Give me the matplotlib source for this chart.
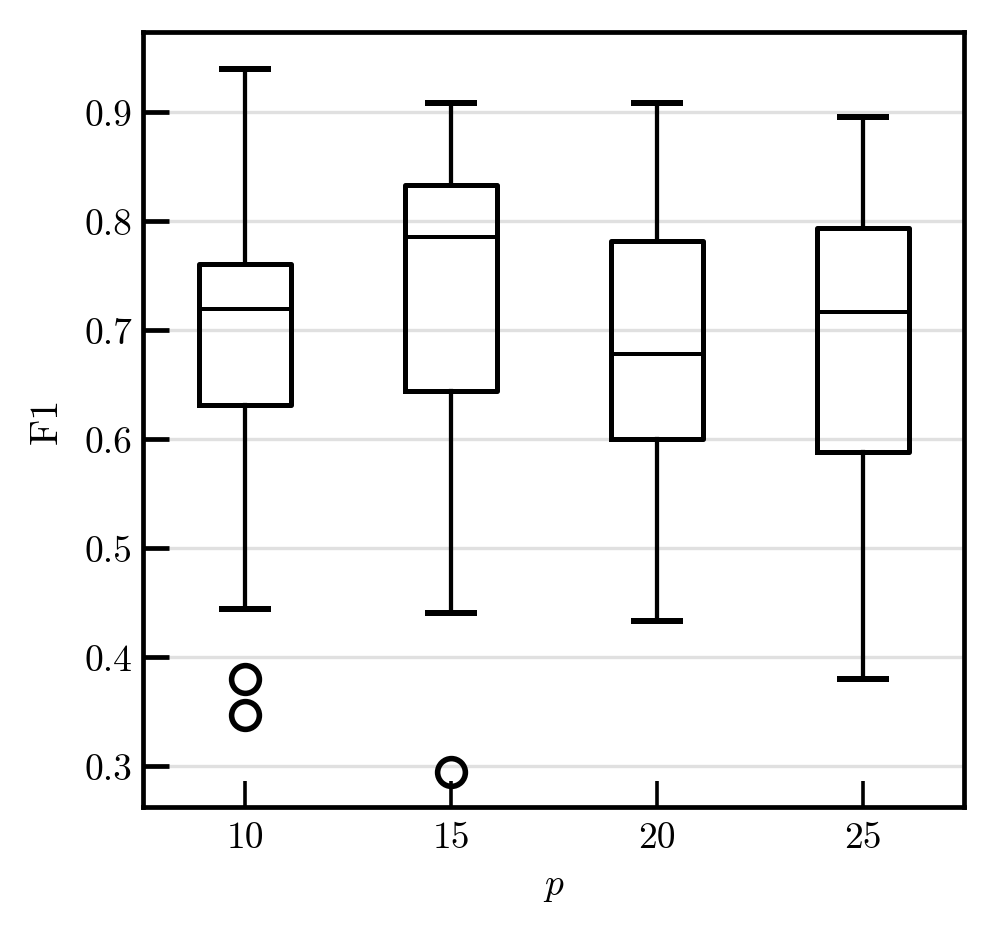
import matplotlib
matplotlib.use("Agg")
import matplotlib.pyplot as plt

# Data
positions = [10, 15, 20, 25]
tick_labels = ["10", "15", "20", "25"]
whislo = [0.444, 0.440, 0.433, 0.380]
q1 = [0.631, 0.644, 0.600, 0.588]
med = [0.719, 0.785, 0.678, 0.7165]
q3 = [0.7606, 0.833, 0.782, 0.794]
whishi = [0.939, 0.908, 0.908, 0.895]
fliers = [[0.380, 0.347], [0.2945], [], []]
yticks = [0.3, 0.4, 0.5, 0.6, 0.7, 0.8, 0.9]

plt.rcParams['font.family'] = ['cmr10', 'DejaVu Serif']
plt.rcParams['mathtext.fontset'] = 'cm'
plt.rcParams['axes.formatter.use_mathtext'] = True

fig = plt.figure(figsize=(9.97, 9.29), dpi=100)
ax = fig.add_axes([143/997, 1 - 808/929, (964-143)/997, (808-33)/929])

stats = []
for i in range(len(positions)):
    stats.append(dict(whislo=whislo[i], q1=q1[i], med=med[i], q3=q3[i],
                      whishi=whishi[i], fliers=fliers[i]))

lw = 3.6
ax.bxp(stats, positions=positions, widths=2.23, showfliers=True,
       boxprops=dict(color='black', linewidth=lw),
       medianprops=dict(color='black', linewidth=lw * 0.8),
       whiskerprops=dict(color='black', linewidth=lw * 0.85),
       capprops=dict(color='black', linewidth=lw * 1.2),
       flierprops=dict(marker='o', markerfacecolor='none', markeredgecolor='black',
                       markersize=20, markeredgewidth=4.0))

ax.set_xlim(7.52, 27.45)
ax.set_ylim(0.2624, 0.9734)
ax.set_xticks(positions)
ax.set_xticklabels(tick_labels)
ax.set_yticks(yticks)
ax.set_yticklabels([f"{v:.1f}" for v in yticks])

ax.yaxis.grid(True, color='#e0e0e0', linewidth=2.4, zorder=0)
ax.set_axisbelow(True)

for s in ax.spines.values():
    s.set_linewidth(3.4)
    s.set_color('black')

ax.tick_params(axis='both', direction='in', length=19, width=3.4, labelsize=27, pad=8)
ax.tick_params(axis='x', width=2.6, pad=10)

ax.set_xlabel('$p$', fontsize=27, labelpad=11)
ax.set_ylabel('F1', fontsize=29, labelpad=14)

fig.savefig('out.png', dpi=100)
